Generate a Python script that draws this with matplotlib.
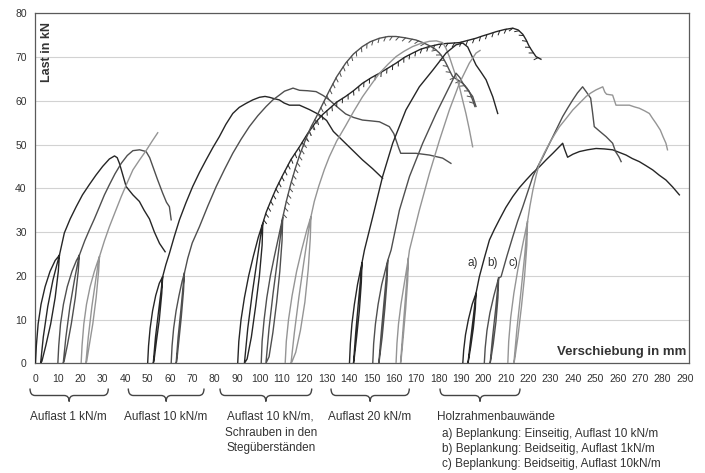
import matplotlib
matplotlib.use("Agg")
import matplotlib.pyplot as plt
from matplotlib import patheffects as pe
from matplotlib.path import Path
from matplotlib.patches import PathPatch

plt.rcParams['font.family'] = ['Liberation Sans', 'DejaVu Sans']

# ---------------- data (displacement in mm, load in kN) ----------------
# Group 1: Auflast 1 kN/m
g1a_loop_x = [0, 0.4, 1.2, 2.5, 4.3, 6.5, 8.8, 10.7, 10.2, 8.8, 6.8, 4.6, 2.9, 2.3, 3.5, 5.5, 7.8, 9.8, 10.7]
g1a_loop_y = [0, 4, 9, 13.5, 17.5, 21, 23.5, 24.7, 21, 15, 9, 4, 0.5, 0, 6, 13, 19, 23, 24.7]
g1a_env_x = [10.7, 12.9, 15.5, 18.2, 21, 24, 27, 30, 33, 35.3, 36.5, 37.5, 40.5, 43.5, 46.4, 48.5, 50.9, 53.1, 55.4, 57.9]
g1a_env_y = [24.7, 29.8, 33, 35.8, 38.5, 40.8, 43, 45, 46.7, 47.4, 47, 45.7, 40.4, 38.5, 37.0, 35.0, 33.0, 30.0, 27.4, 25.5]

g1b_loop_x = [10, 10.4, 11.2, 12.5, 14.2, 16.3, 18.3, 19.6, 19.1, 17.8, 16.0, 14.2, 12.8, 12.4, 13.6, 15.4, 17.4, 18.9, 19.6]
g1b_loop_y = [0, 4, 9, 13.5, 17.5, 21, 23.5, 24.7, 21, 15, 9, 4, 0.5, 0, 6, 13, 19, 23, 24.7]
g1b_env_x = [19.6, 22, 24.1, 26.3, 28.6, 30.8, 33, 35.5, 38.3, 41, 43.5, 46.5, 49.4, 51, 52.4, 54.5, 56.8, 58.5, 59.8, 60.6]
g1b_env_y = [24.7, 28, 30.5, 33, 35.8, 38.5, 40.8, 43.3, 45.7, 47.5, 48.6, 48.8, 48.4, 47, 45, 42, 38.9, 36.8, 35.8, 32.8]

g1c_loop_x = [20.4, 20.8, 21.6, 22.8, 24.4, 26.3, 27.8, 28.6, 28.2, 27.1, 25.6, 24.0, 22.9, 22.5, 23.6, 25.2, 26.9, 28.0, 28.6]
g1c_loop_y = [0, 4, 9, 13.5, 17.5, 21, 23.3, 24.4, 21, 15, 9, 4, 0.5, 0, 6, 13, 19, 22.8, 24.4]
g1c_env_x = [28.6, 30.8, 33, 35.6, 38.3, 40.9, 43.5, 46.5, 49.4, 52, 54.6]
g1c_env_y = [24.4, 28, 31.2, 34.6, 38.1, 41.2, 44.2, 46.5, 48.6, 50.7, 52.7]

# Group 2: Auflast 10 kN/m
g2a_loop_x = [50.1, 50.5, 51.2, 52.3, 53.7, 55.3, 56.8, 56.4, 55.3, 54.0, 52.9, 52.6, 53.6, 55.0, 56.2, 56.8]
g2a_loop_y = [0, 4, 8, 12, 15.5, 18.3, 19.8, 16, 10, 5, 0.5, 0, 6, 12, 17, 19.8]
g2a_env_x = [56.8, 58.2, 59.8, 62, 64.3, 67.2, 70.2, 73.2, 76.2, 79.2, 82.1, 85, 88.1, 91, 94, 97, 100,
             102.5, 104.5, 106.5, 108.9, 111, 113.4, 117.9, 122.3, 126.8, 130, 133, 136, 140, 146, 150.5, 155]
g2a_env_y = [19.8, 22.5, 25.1, 29, 32.8, 36.7, 40.4, 43.6, 46.5, 49.3, 51.8, 54.6, 57.1, 58.5, 59.4, 60.2, 60.8,
             61, 60.8, 60.5, 60.2, 59.5, 59, 59, 58, 56.8, 55.5, 53, 51.5, 49.5, 46.5, 44.5, 42.3]

g2b_loop_x = [60.6, 61.0, 61.7, 62.8, 64.1, 65.5, 66.5, 66.1, 65.1, 64.0, 63.1, 62.8, 63.7, 64.9, 65.9, 66.5]
g2b_loop_y = [0, 4, 8, 12, 15.5, 18.8, 20.6, 16.5, 10.5, 5, 0.5, 0, 6, 12, 17.5, 20.6]
g2b_env_x = [66.5, 68, 70, 73.2, 77, 80.7, 84.4, 88.1, 91.8, 95.5, 99.3, 103, 106, 108.9, 111.2, 113.4, 115,
             117.9, 121.5, 125.3, 128.5, 131.2, 134.5, 138.5, 142, 146, 150, 153.6, 158, 160, 161, 162.2, 163.1,
             166, 169.9, 175.9, 181.8, 185.5]
g2b_env_y = [20.6, 24, 27.5, 31.2, 36, 40.4, 44.3, 48, 51.2, 54.1, 56.6, 58.7, 60.2, 61.3, 62.2, 62.6, 62.9,
             62.4, 62.3, 62.1, 61.2, 60.2, 58.7, 57, 56.2, 55.6, 55.4, 55.2, 54.1, 52.5, 51, 49.2, 48,
             48, 48, 47.6, 46.9, 45.7]

# Group 3: Auflast 10 kN/m, Schrauben in den Stegueberstaenden
g3a_loop_x = [90.3, 90.8, 91.8, 93.3, 95.2, 97.3, 99.5, 101.5, 101.2, 100.0, 98.3, 96.4, 94.5, 93.3, 94.8, 96.8, 98.8, 100.5, 101.5]
g3a_loop_y = [0, 5, 10, 15, 20, 24.5, 28.8, 32, 27, 20, 13, 6, 1, 0, 8, 16, 23, 29, 32]
g3a_env_x = [101.5, 103, 105, 107.5, 110.4, 114, 117.9, 121.5, 125.3, 128.5, 131.2, 134.5, 138.5, 142, 146, 150,
             153.6, 157.5, 161, 165, 168.4, 172, 175.9, 180, 183.3, 186.5, 189.3, 193, 196.7, 199.5, 202.7,
             205.7, 209.5, 213.1, 215.5, 217.6, 219, 220.5, 222, 223.5, 225.7]
g3a_env_y = [32, 34.5, 37, 40, 43, 46.5, 49.5, 52.5, 55.2, 57, 58.2, 59.7, 61, 62.3, 64, 65.3,
             66.3, 67.5, 68.6, 70, 70.9, 71.8, 72.4, 72.9, 73.1, 73.2, 73.3, 73.8, 74.3, 74.8, 75.3,
             75.8, 76.3, 76.6, 76.2, 75.2, 74, 72.4, 71.2, 70.1, 69.5]

g3b_loop_x = [100.8, 101.2, 102.1, 103.3, 104.9, 106.7, 108.6, 110.4, 110.1, 109.1, 107.7, 106.0, 104.3, 102.9, 104.3, 106.1, 107.9, 109.5, 110.4]
g3b_loop_y = [0, 5, 10, 15, 20, 24.5, 29, 33.3, 28, 21, 14, 7, 1.5, 0, 8, 16, 23, 29.5, 33.3]
g3b_env_x = [110.4, 112, 114, 116, 117.9, 120.5, 123, 125.3, 128, 131.2, 134.5, 138.5, 142, 146, 149.5, 153.6,
             157.5, 161, 165, 169.9, 173, 175.9, 178.5, 180.4, 182, 183.3, 184.8, 186.3, 188.5, 190.8, 192.5,
             193.7, 195.2, 196.2]
g3b_env_y = [33.3, 37, 41, 44.5, 47.5, 51, 54, 56.2, 59, 62.3, 65.5, 68.6, 70.7, 72.4, 73.5, 74.3,
             74.7, 74.7, 74.4, 73.9, 73.3, 72.6, 71.8, 70.9, 69.8, 68.6, 67, 65.5, 64.8, 64, 63,
             62.1, 60.2, 58.7]

g3c_loop_x = [111.5, 112.0, 113.0, 114.6, 116.6, 118.9, 121.2, 123.0, 122.7, 121.8, 120.3, 118.3, 116.2, 114.5, 114.1, 115.6, 117.6, 119.8, 121.7, 123.0]
g3c_loop_y = [0, 5, 10, 15.5, 21, 26, 30.5, 33.5, 28.5, 21.5, 14, 7.5, 2.5, 0.3, 0, 7, 15, 23, 29.5, 33.5]
g3c_env_x = [123, 124.5, 126.5, 129, 131.2, 134.5, 138.5, 142, 146, 150, 153.6, 157.5, 161, 164.5, 168.4, 172,
             175.9, 179, 181.8, 183.3, 184.8, 187, 189.3, 190.8, 192.2, 193.7, 195.2]
g3c_env_y = [33.5, 37, 40.5, 44.3, 47.2, 50.8, 54.3, 57.5, 60.9, 63.8, 66.3, 68.4, 70.1, 71.3, 72.4, 73.1,
             73.6, 73.7, 73.3, 72, 70.1, 66.7, 63.2, 60, 57.1, 53.5, 49.5]

# Group 4: Auflast 20 kN/m
g4a_loop_x = [140.2, 140.6, 141.3, 142.4, 143.8, 145.8, 145.5, 144.6, 143.4, 142.3, 142.0, 143.0, 144.3, 145.8]
g4a_loop_y = [0, 4.5, 9, 13.5, 18, 23, 18.5, 12, 6, 1, 0, 7, 14.5, 23]
g4a_env_x = [145.8, 146.9, 150.6, 155, 159.5, 165.4, 171.4, 177.4, 183.3, 187.8, 190.8, 193, 196.7, 199, 201.2, 204.2, 206.4]
g4a_env_y = [23, 25.9, 33.5, 42.7, 50.3, 57.9, 63.2, 67, 70.9, 72.8, 73.2, 72.3, 68.2, 66.5, 64.8, 60.9, 57.1]

g4b_loop_x = [150.6, 151.0, 151.8, 153.0, 154.6, 157.3, 157.0, 156.0, 154.8, 153.6, 153.3, 154.4, 155.8, 157.3]
g4b_loop_y = [0, 4.5, 9, 13.5, 18, 23.5, 19, 12.5, 6, 1, 0, 7, 15, 23.5]
g4b_env_x = [157.3, 158.8, 162.5, 167, 172.9, 178.9, 184.8, 187.8, 189.5, 190.8, 193, 195.2, 196.7]
g4b_env_y = [23.5, 25.9, 35, 42.7, 50.3, 57.1, 63.2, 66.3, 65.3, 64, 62.5, 61, 58.7]

g4c_loop_x = [161, 161.4, 162.1, 163.2, 164.6, 166.5, 166.2, 165.3, 164.2, 163.3, 163.0, 164.0, 165.2, 166.5]
g4c_loop_y = [0, 4.5, 9, 13.5, 18, 24, 19, 12.5, 6, 1, 0, 7, 15, 24]
g4c_env_x = [166.5, 167, 171.4, 175.9, 180.4, 184.8, 189.3, 193.7, 196.7, 198.5]
g4c_env_y = [24, 25.9, 35, 43.4, 51, 57.9, 64, 68.6, 70.9, 71.5]

# Group 5: Holzrahmenbauwaende a), b), c)
g5a_loop_x = [190.8, 191.2, 192.0, 193.3, 195.0, 196.7, 196.4, 195.5, 194.4, 193.4, 193.1, 194.2, 195.5, 196.7]
g5a_loop_y = [0, 3, 6.5, 10, 13.5, 16, 12.5, 8, 4, 0.8, 0, 5, 10.5, 16]
g5a_env_x = [196.7, 198.2, 200.5, 202.7, 204.9, 207.1, 210, 213.1, 216, 219.1, 222, 225, 228, 231, 233.3, 235.4,
             236.2, 237.6, 240, 242.9, 246.5, 250.3, 254, 257.7, 260.7, 263.7, 266.5, 269.6, 272.5, 275.6,
             278.5, 281.5, 284.5, 287.5]
g5a_env_y = [16, 19.8, 24.2, 28.2, 30.6, 32.8, 35.6, 38.1, 40.1, 41.9, 43.5, 44.9, 46.5, 48, 49.2, 50.3,
             49, 47.1, 47.8, 48.4, 48.8, 49.1, 49, 48.8, 48.2, 47.6, 46.8, 46.1, 45.2, 44.2,
             43, 41.9, 40.3, 38.5]

g5b_loop_x = [200.4, 200.8, 201.6, 202.9, 204.7, 206.8, 206.5, 205.6, 204.4, 203.3, 203.0, 204.1, 205.5, 206.8]
g5b_loop_y = [0, 3.5, 7.5, 11.5, 15.5, 19.5, 15, 9.5, 4.5, 0.8, 0, 6, 12.5, 19.5]
g5b_env_x = [206.8, 207.9, 210.5, 213.1, 215.3, 217.6, 220, 222.1, 224.3, 226.6, 228.8, 231, 233.2, 235.4, 237.6,
             239.9, 242, 244.3, 246, 247.9, 248.7, 249.5, 252, 254.8, 257.7, 259, 260.5, 261.5]
g5b_env_y = [19.5, 19.8, 24.5, 28.9, 32.5, 35.8, 39.5, 42.7, 45, 47.2, 49.5, 51.8, 54.1, 56.4, 58.3,
             60.2, 61.8, 63.2, 62, 60.6, 57.5, 54.1, 53, 51.8, 50.3, 48.4, 47.2, 46.1]

g5c_loop_x = [210.9, 211.3, 212.2, 213.6, 215.4, 217.5, 219.7, 219.4, 218.4, 217.0, 215.4, 214.0, 213.6, 215.0, 216.8, 218.5, 219.7]
g5c_loop_y = [0, 5, 10.5, 16, 21.5, 27, 32.4, 27, 20, 13, 6, 1, 0, 8, 16.5, 25, 32.4]
g5c_env_x = [219.7, 220.8, 222.1, 223.5, 225, 227.2, 229.5, 231.8, 234, 237, 239.9, 243, 245.9, 248, 250.3, 253.3,
             254.2, 255, 257.7, 259.2, 262, 265.2, 267.5, 269.6, 272, 274.1, 275.5, 277, 279, 280.2, 281.5, 282.2]
g5c_env_y = [32.4, 36, 39.6, 42.8, 45.7, 48.1, 50.3, 52.3, 54.1, 56, 57.9, 59.5, 61, 61.8, 62.5, 63.2,
             62, 61.5, 61.3, 59, 59, 59, 58.6, 58.3, 57.7, 57.1, 56, 54.9, 53.3, 51.8, 50.3, 48.8]

x_ticks = list(range(0, 291, 10))
y_ticks = list(range(0, 81, 10))
group_labels = ["Auflast 1 kN/m", "Auflast 10 kN/m",
                "Auflast 10 kN/m,\nSchrauben in den\nStegüberständen", "Auflast 20 kN/m"]
wall_title = "Holzrahmenbauwände"
wall_items = ["a) Beplankung: Einseitig, Auflast 10 kN/m",
              "b) Beplankung: Beidseitig, Auflast 1kN/m",
              "c) Beplankung: Beidseitig, Auflast 10kN/m"]
curve_tags = ["a)", "b)", "c)"]

# ---------------- styling ----------------
C_BLACK = '#262626'
C_DARK = '#4f4f4f'
C_LIGHT = '#959595'
TXT = '#333333'
LW = 1.0

W, H = 705, 473
fig = plt.figure(figsize=(W / 100, H / 100), dpi=100)
fig.patch.set_facecolor('white')
ax_l, ax_r, ax_t, ax_b = 35, 689, 13.3, 363.3
ax = fig.add_axes([ax_l / W, 1 - ax_b / H, (ax_r - ax_l) / W, (ax_b - ax_t) / H])
ax.set_xlim(-0.2, 291.8)
ax.set_ylim(0, 80)

# short hanging "teeth" of the screwed specimens (ticks only, thinner than the line)
teeth = [pe.TickedStroke(spacing=4.8, angle=-125, length=0.65)]

curves = [
    (g1a_loop_x, g1a_loop_y, g1a_env_x, g1a_env_y, C_BLACK, False),
    (g1b_loop_x, g1b_loop_y, g1b_env_x, g1b_env_y, C_DARK, False),
    (g1c_loop_x, g1c_loop_y, g1c_env_x, g1c_env_y, C_LIGHT, False),
    (g2a_loop_x, g2a_loop_y, g2a_env_x, g2a_env_y, C_BLACK, False),
    (g2b_loop_x, g2b_loop_y, g2b_env_x, g2b_env_y, C_DARK, False),
    (g3a_loop_x, g3a_loop_y, g3a_env_x, g3a_env_y, C_BLACK, True),
    (g3b_loop_x, g3b_loop_y, g3b_env_x, g3b_env_y, C_DARK, True),
    (g3c_loop_x, g3c_loop_y, g3c_env_x, g3c_env_y, C_LIGHT, False),
    (g4a_loop_x, g4a_loop_y, g4a_env_x, g4a_env_y, C_BLACK, False),
    (g4b_loop_x, g4b_loop_y, g4b_env_x, g4b_env_y, C_DARK, False),
    (g4c_loop_x, g4c_loop_y, g4c_env_x, g4c_env_y, C_LIGHT, False),
    (g5a_loop_x, g5a_loop_y, g5a_env_x, g5a_env_y, C_BLACK, False),
    (g5b_loop_x, g5b_loop_y, g5b_env_x, g5b_env_y, C_DARK, False),
    (g5c_loop_x, g5c_loop_y, g5c_env_x, g5c_env_y, C_LIGHT, False),
]
for lx, ly, ex, ey, col, jagged in curves:
    ax.plot(lx, ly, color=col, lw=LW, solid_joinstyle='round', zorder=3)
    ax.plot(ex, ey, color=col, lw=LW, solid_joinstyle='round', zorder=3)
    if jagged:
        ax.plot(ex, ey, color=col, lw=0.7, zorder=3, path_effects=teeth)

# axes styling
ax.set_xticks(x_ticks)
ax.set_xticklabels([str(v) for v in x_ticks])
ax.set_yticks(y_ticks)
ax.set_yticklabels([str(v) for v in y_ticks])
ax.tick_params(axis='x', length=0, pad=8, labelsize=7.5, labelcolor=TXT)
ax.tick_params(axis='y', length=0, pad=6, labelsize=7.5, labelcolor=TXT)
ax.yaxis.grid(True, color='#d2d2d2', lw=0.8)
ax.set_axisbelow(True)
for s in ax.spines.values():
    s.set_color('#5a5a5a')
    s.set_linewidth(0.9)

ax.text(0.018, 0.976, "Last in kN", transform=ax.transAxes, rotation=90,
        ha='center', va='top', fontsize=9, fontweight='bold', color=TXT)
ax.text(0.9965, 0.033, "Verschiebung in mm", transform=ax.transAxes,
        ha='right', va='center', fontsize=9.5, fontweight='bold', color=TXT)

# a) b) c) tags next to the Holzrahmenbau curves
for tag, tx in zip(curve_tags, [195.1, 204.3, 213.6]):
    ax.text(tx, 22.9, tag, ha='center', va='center', fontsize=8.5, color=TXT, zorder=4)

# ---------------- braces and group captions below the axis ----------------
ov = fig.add_axes([0, 0, 1, 1])
ov.set_xlim(0, W)
ov.set_ylim(H, 0)
ov.axis('off')
ov.patch.set_alpha(0)


def brace(x0, x1, yt=388.5, ym=395.5, yb=401.5, r=5.0):
    xc = (x0 + x1) / 2
    verts = [(x0, yt), (x0, ym), (x0 + r, ym), (xc - r, ym), (xc, ym), (xc, yb),
             (xc, ym), (xc + r, ym), (x1 - r, ym), (x1, ym), (x1, yt)]
    codes = [Path.MOVETO, Path.CURVE3, Path.CURVE3, Path.LINETO, Path.CURVE3, Path.CURVE3,
             Path.CURVE3, Path.CURVE3, Path.LINETO, Path.CURVE3, Path.CURVE3]
    ov.add_patch(PathPatch(Path(verts, codes), facecolor='none', edgecolor='#444444', lw=1.0))


for x0, x1 in [(30, 108.3), (128.3, 204), (220, 311.7), (331, 409.3), (440, 520)]:
    brace(x0, x1)

LINE = 15.8
for label, cx in zip(group_labels, [68.3, 166, 270.7, 370]):
    for i, line in enumerate(label.split("\n")):
        ov.text(cx, 416.7 + i * LINE, line, ha='center', va='center', fontsize=8.5, color=TXT)

ov.text(437.3, 416.7, wall_title, ha='left', va='center', fontsize=8.5, color=TXT)
for i, item in enumerate(wall_items):
    ov.text(441.7, 434 + i * 15, item, ha='left', va='center', fontsize=8.5, color=TXT)

fig.savefig("out.png", dpi=100, facecolor='white')
